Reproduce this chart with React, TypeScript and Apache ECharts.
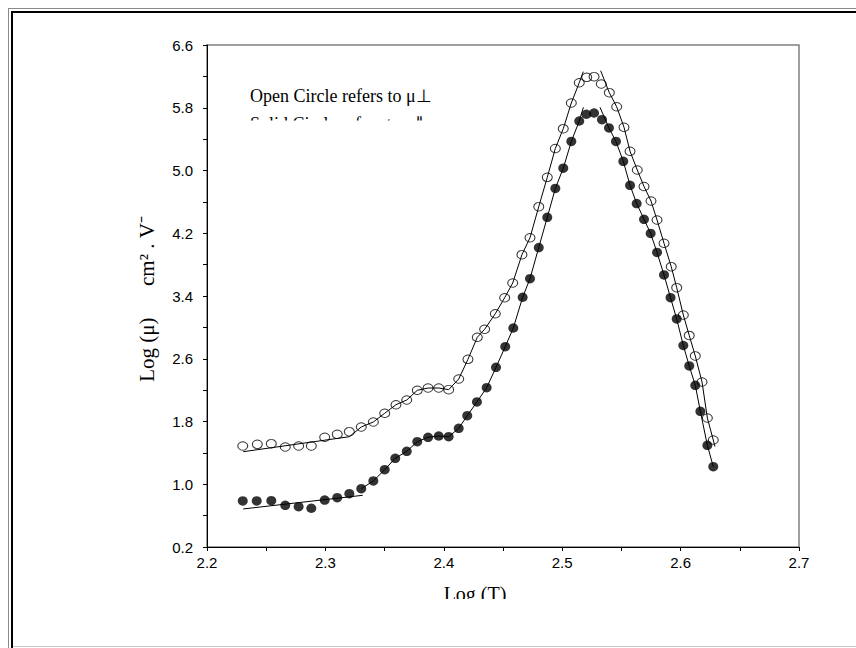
import React, { useEffect, useRef } from "react";
import * as echarts from "echarts";

// Open circles (mu perpendicular)
const openX = [2.2302, 2.2425, 2.2543, 2.2661, 2.2774, 2.2881, 2.2994, 2.3100, 2.3202, 2.3303, 2.3405, 2.3501, 2.3596, 2.3687, 2.3776, 2.3867, 2.3957, 2.4041, 2.4126, 2.4204, 2.4283, 2.4345, 2.4435, 2.4514, 2.4582, 2.4660, 2.4728, 2.4802, 2.4874, 2.4942, 2.5009, 2.5077, 2.5144, 2.5207, 2.5269, 2.5330, 2.5398, 2.5460, 2.5522, 2.5573, 2.5634, 2.5691, 2.5750, 2.5801, 2.5860, 2.5921, 2.5967, 2.6023, 2.6073, 2.6124, 2.6181, 2.6226, 2.6276];
const openY = [1.488, 1.509, 1.517, 1.475, 1.488, 1.488, 1.599, 1.637, 1.670, 1.730, 1.794, 1.905, 2.014, 2.074, 2.198, 2.227, 2.227, 2.206, 2.342, 2.593, 2.874, 2.976, 3.174, 3.378, 3.566, 3.927, 4.143, 4.539, 4.913, 5.281, 5.533, 5.861, 6.119, 6.188, 6.196, 6.103, 5.992, 5.813, 5.551, 5.245, 5.006, 4.796, 4.611, 4.369, 4.072, 3.774, 3.506, 3.158, 2.897, 2.636, 2.304, 1.845, 1.564];

// Solid circles
const solidX = [2.2302, 2.2420, 2.2543, 2.2661, 2.2774, 2.2881, 2.2994, 2.3100, 2.3202, 2.3303, 2.3405, 2.3501, 2.3590, 2.3687, 2.3776, 2.3867, 2.3957, 2.4041, 2.4126, 2.4198, 2.4280, 2.4362, 2.4441, 2.4519, 2.4587, 2.4666, 2.4728, 2.4802, 2.4874, 2.4942, 2.5009, 2.5077, 2.5144, 2.5204, 2.5269, 2.5336, 2.5395, 2.5454, 2.5516, 2.5573, 2.5629, 2.5691, 2.5747, 2.5801, 2.5860, 2.5915, 2.5967, 2.6023, 2.6073, 2.6124, 2.6167, 2.6226, 2.6276];
const solidY = [0.787, 0.787, 0.791, 0.732, 0.714, 0.694, 0.799, 0.829, 0.880, 0.944, 1.042, 1.186, 1.331, 1.420, 1.543, 1.599, 1.615, 1.606, 1.713, 1.874, 2.049, 2.231, 2.491, 2.754, 2.992, 3.384, 3.621, 4.018, 4.403, 4.771, 5.029, 5.370, 5.631, 5.717, 5.733, 5.648, 5.542, 5.370, 5.117, 4.811, 4.579, 4.378, 4.197, 3.955, 3.668, 3.378, 3.107, 2.769, 2.508, 2.262, 1.930, 1.497, 1.224];

// Fit line end points
const openLowFit = [[2.2306, 1.415], [2.3202, 1.606]];
const openRiseEnd = [2.5178, 6.26];
const openFallStart = [2.5325, 6.272];
const openFallEnd = [2.6290, 1.48];
const solidLowFit = [[2.2306, 0.685], [2.3315, 0.859]];
const solidRiseEnd = [2.5179, 5.806];
const solidFallStart = [2.5319, 5.806];

// Axis ticks
const xTickLabels = [2.2, 2.3, 2.4, 2.5, 2.6, 2.7];
const xTicks = [2.2, 2.25, 2.3, 2.35, 2.4, 2.45, 2.5, 2.55, 2.6, 2.65, 2.7];
const yTickLabels = [0.2, 1.0, 1.8, 2.6, 3.4, 4.2, 5.0, 5.8, 6.6];
const yTicks = [0.2, 0.6, 1.0, 1.4, 1.8, 2.2, 2.6, 3.0, 3.4, 3.8, 4.2, 4.6, 5.0, 5.4, 5.8, 6.2, 6.6];

const pts = (xs: number[], ys: number[], a: number, b: number) =>
  xs.slice(a, b).map((x, i) => [x, ys[a + i]]);

const NB = "\u00A0";

export default function App() {
  const ref = useRef<HTMLDivElement>(null);
  useEffect(() => {
    if (!ref.current) return;
    const chart = echarts.init(ref.current, null, { renderer: "svg" });

    const openFitA = [...openLowFit, ...pts(openX, openY, 9, 33), openRiseEnd];
    const openFitB = [openFallStart, ...pts(openX, openY, 36, 53), openFallEnd];
    const solidFitB = [...pts(solidX, solidY, 9, 33), solidRiseEnd];
    const solidFitC = [solidFallStart, ...pts(solidX, solidY, 36, 53)];

    const lineSeries = (data: number[][]) => ({
      type: "line",
      data,
      showSymbol: false,
      symbol: "none",
      lineStyle: { color: "#000", width: 1 },
      z: 2,
      silent: true,
    });

    const serif = '"Liberation Serif", "Times New Roman", serif';
    const sans = '"Liberation Sans", Arial, sans-serif';

    chart.setOption({
      animation: false,
      backgroundColor: "#fff",
      grid: {
        left: 207,
        right: 57,
        top: 45,
        bottom: 101,
        show: true,
        borderColor: "#808080",
        borderWidth: 1.5,
        backgroundColor: "transparent",
      },
      xAxis: {
        type: "value",
        min: 2.2,
        max: 2.7,
        axisLine: { show: true, onZero: false, lineStyle: { color: "#000", width: 1 } },
        axisTick: { show: true, customValues: xTicks, length: 4, lineStyle: { color: "#000" } },
        axisLabel: {
          customValues: xTickLabels,
          formatter: (v: number) => v.toFixed(1),
          color: "#000",
          fontSize: 15,
          fontFamily: sans,
          margin: 8,
        },
        splitLine: { show: false },
      },
      yAxis: {
        type: "value",
        min: 0.2,
        max: 6.6,
        axisLine: { show: true, onZero: false, lineStyle: { color: "#000", width: 1 } },
        axisTick: { show: true, customValues: yTicks, length: 4, lineStyle: { color: "#000" } },
        axisLabel: {
          customValues: yTickLabels,
          formatter: (v: number) => v.toFixed(1),
          color: "#000",
          fontSize: 15,
          fontFamily: sans,
          margin: 14,
        },
        splitLine: { show: false },
      },
      series: [
        lineSeries(openFitA),
        lineSeries(openFitB),
        lineSeries(solidLowFit),
        lineSeries(solidFitB),
        lineSeries(solidFitC),
        {
          type: "scatter",
          data: openX.map((x, i) => [x, openY[i]]),
          symbol: "circle",
          symbolSize: [10, 8.5],
          itemStyle: { color: "rgba(0,0,0,0)", borderColor: "#000", borderWidth: 1 },
          z: 3,
        },
        {
          type: "scatter",
          data: solidX.map((x, i) => [x, solidY[i]]),
          symbol: "circle",
          symbolSize: [10, 9.5],
          itemStyle: { color: "#000", borderColor: "#000", borderWidth: 0 },
          z: 3,
        },
      ],
      graphic: [
        // page frame
        { type: "line", shape: { x1: 8, y1: 8.5, x2: 856, y2: 8.5 }, style: { stroke: "#8a8a8a", lineWidth: 1 }, silent: true },
        { type: "line", shape: { x1: 11, y1: 12, x2: 856, y2: 12 }, style: { stroke: "#000", lineWidth: 2 }, silent: true },
        { type: "line", shape: { x1: 8.5, y1: 8, x2: 8.5, y2: 648 }, style: { stroke: "#8a8a8a", lineWidth: 1 }, silent: true },
        { type: "line", shape: { x1: 12, y1: 11, x2: 12, y2: 648 }, style: { stroke: "#000", lineWidth: 2 }, silent: true },
        { type: "line", shape: { x1: 13, y1: 646.5, x2: 856, y2: 646.5 }, style: { stroke: "#c8c8c8", lineWidth: 1 }, silent: true },
        // annotation text
        {
          type: "text",
          x: 250,
          y: 87,
          z: 5,
          style: { text: "Open Circle refers to μ⊥", font: `18px ${serif}`, fill: "#000", textVerticalAlign: "top" },
        },
        {
          type: "text",
          x: 250,
          y: 115,
          z: 5,
          style: { text: "Solid Circle refers to μ∥", font: `18px ${serif}`, fill: "#000", textVerticalAlign: "top" },
        },
        { type: "rect", z: 10, shape: { x: 240, y: 120.5, width: 240, height: 18 }, style: { fill: "#fff" }, silent: true },
        // axis titles
        {
          type: "text",
          x: 475,
          y: 584,
          z: 5,
          style: { text: "Log (T)", font: `20px ${serif}`, fill: "#000", textAlign: "center", textVerticalAlign: "top" },
        },
        { type: "rect", z: 10, shape: { x: 420, y: 599, width: 120, height: 40 }, style: { fill: "#fff" }, silent: true },
        {
          type: "text",
          x: 147,
          y: 299,
          rotation: Math.PI / 2,
          z: 5,
          style: {
            text: `Log${NB}(μ)${NB}${NB}${NB}${NB}${NB}${NB}cm²${NB}.${NB}V⁻`,
            font: `21px ${serif}`,
            fill: "#000",
            textAlign: "center",
            textVerticalAlign: "middle",
          },
        },
      ],
    });
    return () => chart.dispose();
  }, []);

  return (
    <div
      ref={ref}
      style={{ position: "fixed", left: 0, top: 0, width: 856, height: 648, background: "#fff" }}
    />
  );
}
